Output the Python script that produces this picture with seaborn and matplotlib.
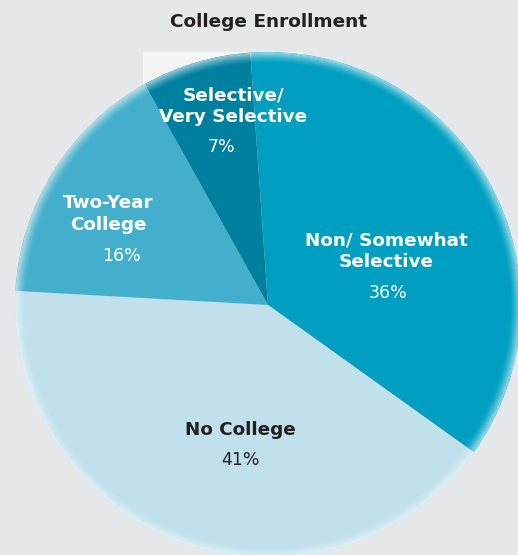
import matplotlib
matplotlib.use("Agg")
import matplotlib.pyplot as plt
from matplotlib.patches import Rectangle, Circle
import seaborn as sns

# Enrollment shares, in drawing order (clockwise from the top)
categories = ["Non/ Somewhat\nSelective", "No College", "Two-Year\nCollege", "Selective/\nVery Selective"]
shares = [36, 41, 16, 7]
slice_colors = ["#009fc1", "#c0e0ec", "#43afcc", "#00809f"]
label_colors = ["white", "#231f20", "white", "white"]

sns.set_theme(style="white")
plt.rcParams["font.family"] = ["DejaVu Sans"]

W, H = 518, 555
fig = plt.figure(figsize=(W / 100, H / 100), dpi=100)
fig.patch.set_facecolor("#e6e7e8")
ax = fig.add_axes([0, 0, 1, 1])
ax.set_facecolor("#e6e7e8")

cx, cy, R = 268, H - 305, 253

# pale panel peeking out behind the top of the pie
ax.add_patch(Rectangle((143, H - 120), 160, 68, facecolor="#f4f4f5",
                       edgecolor="none", zorder=0))

wedges, _ = ax.pie(shares, colors=slice_colors, startangle=94, counterclock=False,
                   center=(cx, cy), radius=R, frame=True,
                   wedgeprops=dict(linewidth=0, zorder=1))

# soft light rim fading inwards from the pie's edge
n_rings = 11
for i in range(n_rings):
    a = 0.6 * (1 - i / n_rings) ** 1.6
    ax.add_patch(Circle((cx, cy), R - 0.7 - i, fill=False, edgecolor="#f2fbfd",
                        linewidth=0.8, alpha=a, zorder=2))

# label anchor points (pixel coordinates from the top-left)
name_pos = [(386, 251), (240, 430), (108, 214), (233, 106)]
pct_pos = [(388, 293), (240, 460), (121, 256), (221, 147)]

for name, share, col, (nx, ny), (px, py) in zip(categories, shares, label_colors, name_pos, pct_pos):
    ax.text(nx, H - ny, name, ha="center", va="center", fontsize=13.2,
            fontweight="bold", color=col, linespacing=1.22, zorder=3)
    ax.text(px, H - py, f"{share}%", ha="center", va="center", fontsize=12.5,
            color=col, zorder=3)

ax.text(268, H - 22, "College Enrollment", ha="center", va="center",
        fontsize=13.3, fontweight="bold", color="#231f20")

ax.set_xlim(0, W)
ax.set_ylim(0, H)
ax.set_aspect("auto")
ax.axis("off")

fig.savefig("out.png", dpi=100, facecolor=fig.get_facecolor())
